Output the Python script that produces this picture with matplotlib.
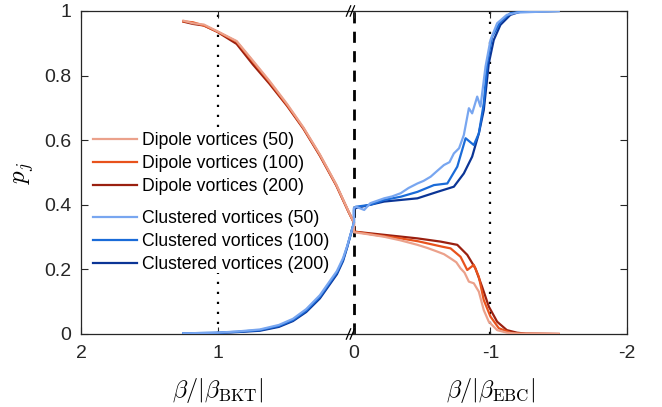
import numpy as np
import matplotlib
matplotlib.use("Agg")
import matplotlib.pyplot as plt

plt.rcParams['font.family'] = ['Liberation Sans', 'DejaVu Sans']
plt.rcParams['mathtext.fontset'] = 'cm'
plt.rcParams['axes.unicode_minus'] = False

# x is plotted on one axis: left half beta/|beta_BKT| (2..0), right half beta/|beta_EBC| (0..-2)
# left part of every curve (BKT side)
x_left = [1.25, 1.18, 1.10, 1.0, 0.86, 0.74, 0.62, 0.49, 0.37, 0.25, 0.13, 0.04, 0.0]
dip50_left = [0.970, 0.962, 0.958, 0.937, 0.907, 0.846, 0.784, 0.712, 0.639, 0.556, 0.463, 0.380, 0.345]
dip100_left = [0.968, 0.965, 0.955, 0.936, 0.905, 0.843, 0.781, 0.709, 0.637, 0.554, 0.461, 0.379, 0.345]
dip200_left = [0.967, 0.960, 0.955, 0.935, 0.898, 0.834, 0.775, 0.706, 0.635, 0.552, 0.460, 0.378, 0.344]

xc_left = [1.25, 1.0, 0.85, 0.69, 0.55, 0.447, 0.35, 0.25, 0.125, 0.08, 0.05, 0.0]
clu50_left = [0.002, 0.004, 0.008, 0.014, 0.028, 0.047, 0.077, 0.120, 0.195, 0.235, 0.272, 0.345]
clu100_left = [0.002, 0.004, 0.007, 0.012, 0.025, 0.043, 0.072, 0.115, 0.190, 0.230, 0.270, 0.345]
clu200_left = [0.001, 0.003, 0.006, 0.010, 0.022, 0.040, 0.068, 0.110, 0.185, 0.226, 0.268, 0.345]

# right part (EBC side)
x_d50 = [0.0, -0.1, -0.221, -0.34, -0.465, -0.54, -0.611, -0.66, -0.708, -0.75, -0.781, -0.81, -0.842,
         -0.878, -0.915, -0.951, -0.988, -1.049, -1.12, -1.2, -1.5]
dip50_right = [0.315, 0.309, 0.301, 0.290, 0.276, 0.266, 0.255, 0.247, 0.234, 0.222, 0.203, 0.190, 0.162,
               0.157, 0.131, 0.074, 0.038, 0.012, 0.004, 0.001, 0.0]
x_d100 = [0.0, -0.15, -0.343, -0.47, -0.586, -0.65, -0.708, -0.781, -0.83, -0.878, -0.915, -0.951, -1.0,
          -1.061, -1.146, -1.22, -1.5]
dip100_right = [0.317, 0.307, 0.296, 0.287, 0.276, 0.270, 0.265, 0.239, 0.198, 0.214, 0.177, 0.105, 0.054,
                0.018, 0.004, 0.001, 0.0]
x_d200 = [0.0, -0.221, -0.465, -0.635, -0.757, -0.83, -0.89, -0.939, -0.988, -1.049, -1.12, -1.195, -1.26, -1.5]
dip200_right = [0.317, 0.307, 0.296, 0.286, 0.276, 0.245, 0.203, 0.146, 0.085, 0.038, 0.012, 0.004, 0.001, 0.0]

x_c50 = [0.0, -0.015, -0.075, -0.12, -0.221, -0.28, -0.343, -0.40, -0.465, -0.51, -0.562, -0.61, -0.659,
         -0.70, -0.732, -0.77, -0.805, -0.842, -0.866, -0.903, -0.927, -0.964, -1.0, -1.049, -1.12, -1.195, -1.5]
clu50_right = [0.39, 0.394, 0.384, 0.405, 0.42, 0.426, 0.436, 0.452, 0.466, 0.474, 0.487, 0.505, 0.523,
               0.532, 0.559, 0.575, 0.616, 0.699, 0.683, 0.735, 0.704, 0.828, 0.91, 0.962, 0.988, 0.995, 1.0]
x_c100 = [0.0, -0.015, -0.12, -0.221, -0.343, -0.465, -0.586, -0.684, -0.757, -0.818, -0.878, -0.915,
          -0.951, -0.976, -1.012, -1.073, -1.146, -1.25, -1.5]
clu100_right = [0.39, 0.394, 0.40, 0.415, 0.425, 0.44, 0.461, 0.466, 0.518, 0.606, 0.585, 0.621,
                0.714, 0.838, 0.92, 0.967, 0.993, 0.999, 1.0]
x_c200 = [0.0, -0.015, -0.221, -0.465, -0.611, -0.732, -0.805, -0.866, -0.915, -0.951, -0.988, -1.024,
          -1.073, -1.146, -1.22, -1.5]
clu200_right = [0.385, 0.39, 0.41, 0.42, 0.44, 0.456, 0.497, 0.549, 0.621, 0.693, 0.838, 0.91,
                0.957, 0.988, 0.998, 1.0]

labels_dip = ['Dipole vortices (50)', 'Dipole vortices (100)', 'Dipole vortices (200)']
labels_clu = ['Clustered vortices (50)', 'Clustered vortices (100)', 'Clustered vortices (200)']
colors_dip = ['#eba18b', '#e8521c', '#9a2010']
colors_clu = ['#78a6f0', '#1a6bd8', '#0b3596']

fig = plt.figure(figsize=(6.62, 4.07), dpi=100)
ax = fig.add_axes([0.1224, 0.1794, 0.8246, 0.7936])

dip_sets = [(x_left, dip50_left, x_d50, dip50_right),
            (x_left, dip100_left, x_d100, dip100_right),
            (x_left, dip200_left, x_d200, dip200_right)]
clu_sets = [(xc_left, clu50_left, x_c50, clu50_right),
            (xc_left, clu100_left, x_c100, clu100_right),
            (xc_left, clu200_left, x_c200, clu200_right)]

h_dip = []
for i, ((xl, yl, xr, yr), c, lab) in enumerate(zip(dip_sets, colors_dip, labels_dip)):
    h, = ax.plot(list(xl) + list(xr), list(yl) + list(yr), color=c, lw=1.6, label=lab, zorder=4 - i)
    h_dip.append(h)
h_clu = []
for i, ((xl, yl, xr, yr), c, lab) in enumerate(zip(clu_sets, colors_clu, labels_clu)):
    h, = ax.plot(list(xl) + list(xr), list(yl) + list(yr), color=c, lw=1.6, label=lab, zorder=4 - i)
    h_clu.append(h)

ax.axvline(0, color='black', lw=2, ls=(0, (4, 3)), zorder=1)
dot = dict(color='black', lw=1.6, ls=(0, (1, 3.5)), zorder=1)
ax.axvline(1, ymin=0.64, ymax=1, **dot)
ax.axvline(1, ymin=0, ymax=0.19, **dot)
ax.axvline(-1, **dot)

ax.set_xlim(2, -2)
ax.set_ylim(0, 1)
ax.set_xticks([2, 1, 0, -1, -2])
ax.set_xticklabels(['2', '1', '0', '-1', '-2'])
ax.set_yticks([0, 0.2, 0.4, 0.6, 0.8, 1])
ax.set_yticklabels(['0', '0.2', '0.4', '0.6', '0.8', '1'])
ax.tick_params(direction='in', length=5, width=0.8, colors='#262626', labelsize=14,
               top=True, right=True, pad=7)
ax.tick_params(axis='x', pad=8)
for s in ax.spines.values():
    s.set_color('#262626')
    s.set_linewidth(0.9)

ax.set_ylabel(r'$p_j$', fontsize=18, labelpad=6)
ax.text(1, -0.175, r'$\beta/|\beta_{\mathrm{BKT}}|$', transform=ax.get_xaxis_transform(),
        ha='center', va='center', fontsize=17.5)
ax.text(-1, -0.175, r'$\beta/|\beta_{\mathrm{EBC}}|$', transform=ax.get_xaxis_transform(),
        ha='center', va='center', fontsize=17.5)

# axis break marks at x = 0
for yb in (0, 1):
    for xb in (0.490, 0.497):
        ax.plot([xb - 0.004, xb + 0.004], [yb - 0.016, yb + 0.016], transform=ax.transAxes,
                color='black', lw=0.9, clip_on=False, zorder=5)

leg_kw = dict(loc='upper left', fontsize=12.7, handlelength=2.5, handletextpad=0.3,
              labelspacing=0.34, borderpad=0.3, borderaxespad=0, frameon=False)
leg1 = ax.legend(handles=h_dip, bbox_to_anchor=(0.012, 0.641), **leg_kw)
ax.add_artist(leg1)
leg2 = ax.legend(handles=h_clu, bbox_to_anchor=(0.012, 0.399), **leg_kw)

fig.savefig('out.png', dpi=100)
